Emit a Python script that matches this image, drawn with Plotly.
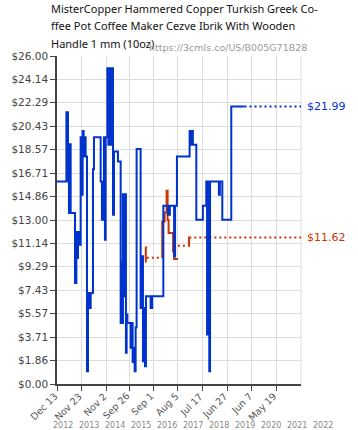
import plotly.graph_objects as go

# ---------------- data ----------------
blue_dates = ["2012-12-13","2013-04-24","2013-05-16","2013-05-30","2013-06-09","2013-06-23","2013-08-23",
              "2013-09-11","2013-09-25","2013-10-04","2013-10-20","2013-11-03","2013-11-10","2013-11-24",
              "2013-12-08","2013-12-22","2014-01-05","2014-01-19","2014-02-07","2014-02-21","2014-03-10",
              "2014-03-31","2014-05-02","2014-05-16","2014-08-18","2014-09-05","2014-09-19","2014-10-03",
              "2014-10-17","2014-10-27","2014-11-20","2014-12-04","2014-12-13","2014-12-27","2015-01-24",
              "2015-02-07","2015-02-21","2015-04-18","2015-05-26","2015-06-05","2015-06-13","2015-06-27",
              "2015-07-14","2015-07-25","2015-08-08","2015-08-18","2015-08-28","2015-10-13","2015-10-27",
              "2015-11-10","2015-11-24","2015-12-08","2015-12-22","2016-01-05","2016-03-01","2016-03-20",
              "2016-04-03","2016-04-17","2016-05-01","2016-05-15","2016-07-20","2016-08-10","2017-01-14",
              "2017-03-19","2017-04-16","2017-06-14","2017-06-28","2017-07-24","2018-01-18","2018-02-08",
              "2018-02-22","2018-03-05","2018-04-22","2018-07-23","2018-09-09","2018-09-20","2018-10-02",
              "2018-10-21","2018-11-01","2019-03-05","2019-03-19","2019-04-22","2019-08-26","2020-02-28"]
blue_prices = [16.05,21.54,16.05,13.55,19.01,13.55,8.01,
               12.04,9.99,11.04,12.04,11.04,19.55,15.0,
               20.06,18.03,19.55,18.03,1.01,7.22,6.03,
               7.22,17.03,19.55,16.05,13.02,16.05,19.55,
               11.44,19.55,25.03,18.96,25.03,18.96,25.03,
               13.42,18.43,17.64,4.84,9.72,4.84,15.05,
               6.95,15.05,2.47,5.5,4.84,2.87,4.84,
               1.75,2.87,1.01,4.5,18.62,6.03,10.12,
               1.8,6.03,1.41,6.95,6.03,6.95,14.13,
               13.42,14.13,10.1,14.13,18.03,20.06,18.96,
               20.06,18.96,13.02,14.13,16.05,3.92,16.05,
               1.01,16.05,15.0,16.05,13.02,21.99,21.99]
blue_dot_dates = ["2020-02-28", "2022-05-01"]
blue_dot_prices = [21.99, 21.99]

orange_dates = ["2016-05-11","2016-05-13","2016-05-27", None,
                "2016-12-28","2016-12-30","2017-02-01","2017-03-01","2017-03-15","2017-03-29",
                "2017-05-31","2017-06-14","2017-08-07", None,
                "2018-01-08","2018-01-10","2018-01-14"]
orange_prices = [10.86, 9.72, 9.72, None,
                 10.01, 12.89, 13.6, 15.31, 13.0, 11.97,
                 10.5, 9.9, 9.9, None,
                 10.96, 11.62, 11.62]
orange_dot_dates = ["2016-05-27","2016-12-28", None, "2017-08-07","2018-01-08", None, "2018-01-14","2022-05-01"]
orange_dot_prices = [10.01, 10.01, None, 10.96, 10.96, None, 11.62, 11.62]

last_blue = 21.99
last_orange = 11.62

y_ticks = [0.00, 1.86, 3.71, 5.57, 7.43, 9.29, 11.14, 13.00, 14.86, 16.71, 18.57, 20.43, 22.29, 24.14, 26.00]
x_tick_dates = ["2012-12-13","2013-11-23","2014-11-02","2015-09-26","2016-09-01",
                "2017-08-05","2018-07-17","2019-06-27","2020-06-07","2021-05-19"]
x_tick_labels = ["Dec 13","Nov 23","Nov 2","Sep 26","Sep 1","Aug 5","Jul 17","Jun 27","Jun 7","May 19"]
years = ["2012","2013","2014","2015","2016","2017","2018","2019","2020","2021","2022"]

title_lines = ["MisterCopper Hammered Copper Turkish Greek Co-",
               "ffee Pot Coffee Maker Cezve Ibrik With Wooden",
               "Handle 1 mm (10oz)"]
url_text = "https://3cmls.co/US/B005G71B28"

BLUE = "#0033cc"
ORANGE = "#cc3300"

# ---------------- figure ----------------
fig = go.Figure()
fig.add_trace(go.Scatter(x=orange_dot_dates, y=orange_dot_prices, mode="lines", connectgaps=False,
                         line=dict(color=ORANGE, width=2, dash="2px,3px"), hoverinfo="skip"))
fig.add_trace(go.Scatter(x=orange_dates, y=orange_prices, mode="lines", connectgaps=False,
                         line=dict(shape="hv", color=ORANGE, width=2), hoverinfo="skip"))
fig.add_trace(go.Scatter(x=blue_dates, y=blue_prices, mode="lines",
                         line=dict(shape="hv", color=BLUE, width=2), hoverinfo="skip"))
fig.add_trace(go.Scatter(x=blue_dot_dates, y=blue_dot_prices, mode="lines",
                         line=dict(color=BLUE, width=2, dash="2px,3px"), hoverinfo="skip"))

W, H = 358, 430
ml, mr, mt, mb = 57, 57, 56, 46
pw, ph = W - ml - mr, H - mt - mb

def px2paper_x(px):
    return (px - ml) / pw

def px2paper_y(py):
    return (H - mb - py) / ph

ann = []
for i, line in enumerate(title_lines):
    ann.append(dict(text=line,
                    xref="paper", yref="paper", x=px2paper_x(49), y=px2paper_y(8 + 17.5 * i),
                    xanchor="left", yanchor="middle", showarrow=False,
                    font=dict(family="Noto Sans", size=11, color="#111")))
ann.append(dict(text=url_text, xref="paper", yref="paper", x=px2paper_x(147), y=px2paper_y(47),
                xanchor="left", yanchor="middle", showarrow=False,
                font=dict(family="DejaVu Sans", size=9.5, color="#999")))
for d, lab in zip(x_tick_dates, x_tick_labels):
    ann.append(dict(text=lab, xref="x", yref="paper", x=d, y=px2paper_y(389),
                    xanchor="right", yanchor="top", textangle=-45, showarrow=False,
                    xshift=4, borderpad=0,
                    font=dict(family="DejaVu Sans", size=9.5, color="#555")))
for i, yr in enumerate(years):
    ann.append(dict(text=yr, xref="paper", yref="paper", x=px2paper_x(63 + 26 * i), y=px2paper_y(426),
                    xanchor="center", yanchor="middle", showarrow=False,
                    font=dict(family="DejaVu Sans", size=8, color="#888")))
ann.append(dict(text="$%.2f" % last_blue, xref="paper", yref="y", x=1, y=last_blue, xanchor="left",
                xshift=4, showarrow=False, font=dict(family="DejaVu Sans", size=11, color=BLUE)))
ann.append(dict(text="$%.2f" % last_orange, xref="paper", yref="y", x=1, y=last_orange, xanchor="left",
                xshift=4, showarrow=False, font=dict(family="DejaVu Sans", size=11, color=ORANGE)))

fig.update_layout(
    width=W, height=H,
    margin=dict(l=ml, r=mr, t=mt, b=mb, autoexpand=False),
    paper_bgcolor="white", plot_bgcolor="white",
    showlegend=False,
    annotations=ann,
    shapes=[dict(type="line", xref="paper", yref="paper", x0=1, x1=1, y0=0, y1=1,
                 line=dict(color="#dddddd", width=1), layer="below")],
    xaxis=dict(type="date", range=["2012-12-13", "2022-05-01"], automargin=False,
               tickvals=x_tick_dates, showticklabels=False,
               showgrid=True, gridcolor="#dddddd", gridwidth=1,
               showline=True, linecolor="#444", linewidth=1.5,
               ticks="outside", ticklen=5, tickcolor="#444",
               zeroline=False, fixedrange=True),
    yaxis=dict(range=[0, 26], tickvals=y_ticks, ticktext=["$%.2f" % v for v in y_ticks], automargin=False,
               showgrid=True, gridcolor="#dddddd", gridwidth=1,
               showline=True, linecolor="#444", linewidth=1.5,
               ticks="outside", ticklen=5, tickcolor="#444",
               tickfont=dict(family="DejaVu Sans", size=10.5, color="#444"),
               zeroline=False, fixedrange=True),
)

fig.write_html("out.html", config={"displayModeBar": False},
               post_script="document.body.style.margin='0px';document.body.style.overflow='hidden';")
